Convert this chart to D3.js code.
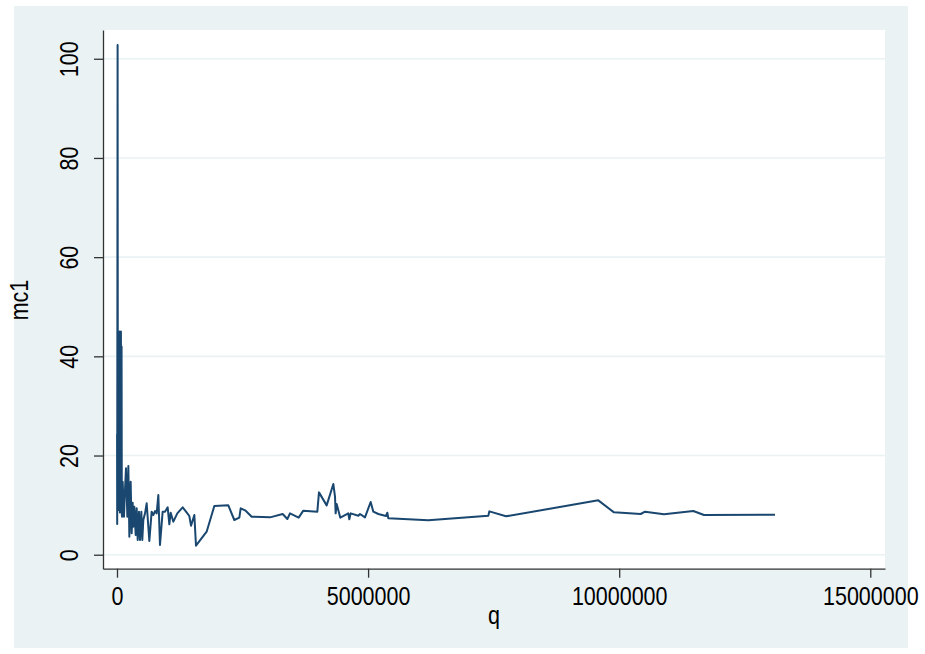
<!DOCTYPE html>
<html>
<head>
<meta charset="utf-8">
<script src="https://cdn.jsdelivr.net/npm/d3@7"></script>
<style>
html,body{margin:0;padding:0;background:#fff;}
svg{display:block;}
text{font-family:"Liberation Sans",Arial,Helvetica,sans-serif;}
</style>
</head>
<body>
<svg id="chart" width="925" height="654"></svg>
<script>
// ---- data ----
const qValues = [
  1500, 4000, 12000, 17000, 22000, 28000, 36000, 43000, 50000, 57000, 64000, 71000, 78000, 85000, 91000, 96000,
  100000, 113000, 139000, 159000, 179000, 206000, 226000, 246000, 272000, 292000,
  312000, 325000, 345000, 372000, 392000, 412000, 438000, 458000, 485000, 504000,
  524000, 558000, 591000, 644000, 690000, 723000, 757000, 790000, 823000, 856000,
  909000, 956000, 1009000, 1042000, 1069000, 1122000, 1201000, 1308000, 1401000, 1440000,
  1474000, 1540000, 1573000, 1785000, 1938000, 2217000, 2336000, 2436000, 2463000, 2562000,
  2682000, 3047000, 3299000, 3392000, 3445000, 3617000, 3710000, 3989000, 4022000, 4175000,
  4308000, 4341000, 4354000, 4374000, 4447000, 4606000, 4626000, 4653000, 4806000, 4839000,
  4938000, 5051000, 5104000, 5204000, 5356000, 5383000, 5403000,
  6199000, 7394000, 7414000, 7746000, 9584000, 9896000, 10428000, 10514000, 10892000,
  11476000, 11689000, 13102000
];
const mc1Values = [
  24.3, 6.2, 102.8, 11.5, 45.0, 9.0, 44.6, 12.5, 45.0, 8.5, 44.0, 10.5, 45.0, 9.0, 42.0, 8.2,
  7.67, 14.72, 7.67, 13.04, 17.41, 7.67, 17.88, 3.64, 14.72, 4.31,
  10.49, 5.65, 9.68, 3.97, 9.35, 2.96, 8.68, 2.96, 8.68, 2.96,
  7.00, 8.34, 10.36, 2.76, 8.68, 8.00, 8.81, 8.34, 12.04, 1.96,
  8.68, 8.68, 9.55, 6.12, 8.47, 6.66, 8.34, 9.55, 8.34, 7.80,
  5.85, 8.00, 1.82, 4.64, 9.82, 9.95, 7.00, 7.47, 9.35, 8.88,
  7.67, 7.53, 8.21, 7.20, 8.34, 7.47, 8.88, 8.68, 12.57, 9.95,
  14.25, 11.70, 8.34, 10.22, 7.47, 8.34, 7.13, 8.34, 7.87, 8.21,
  7.53, 10.63, 8.68, 8.21, 7.80, 8.47, 7.33,
  6.93, 7.87, 8.74, 7.74, 10.96, 8.54, 8.21, 8.68, 8.14,
  8.81, 8.00, 8.07
];
const xTicks = [0, 5000000, 10000000, 15000000];
const yTicks = [0, 20, 40, 60, 80, 100];
const xTitle = "q";
const yTitle = "mc1";

// ---- layout ----
const W = 925, H = 654;
const plot = {left: 103, right: 885, top: 30, bottom: 568.7};
const svg = d3.select("#chart");

svg.append("rect").attr("x",0).attr("y",0).attr("width",W).attr("height",H).attr("fill","#ffffff");
svg.append("rect").attr("x",14).attr("y",6).attr("width",894).attr("height",642).attr("fill","#eaf2f3");
svg.append("rect").attr("x",plot.left).attr("y",plot.top)
   .attr("width",plot.right-plot.left).attr("height",plot.bottom-plot.top).attr("fill","#ffffff");

const x = d3.scaleLinear().domain([-278800, 15293000]).range([plot.left, plot.right]);
const y = d3.scaleLinear().domain([-2.82, 105.8]).range([plot.bottom, plot.top]);

// gridlines
svg.append("g").selectAll("line").data(yTicks).join("line")
  .attr("x1", plot.left+1).attr("x2", plot.right)
  .attr("y1", d=>y(d)).attr("y2", d=>y(d))
  .attr("stroke","#eaf2f3").attr("stroke-width",1.6);

// line
const data = qValues.map((q,i)=>({q:q, m:mc1Values[i]}));
svg.append("path").datum(data)
  .attr("fill","none").attr("stroke","#1a476f").attr("stroke-width",2)
  .attr("stroke-linejoin","round")
  .attr("d", d3.line().x(d=>x(d.q)).y(d=>y(d.m)));

// axes
const fs = "25.6px";
const sx = 0.84;
const yAxis = svg.append("g").attr("transform",`translate(${plot.left},0)`)
  .call(d3.axisLeft(y).tickValues(yTicks).tickFormat(d3.format("d")).tickSize(9).tickSizeOuter(0));
const xAxis = svg.append("g").attr("transform",`translate(0,${plot.bottom})`)
  .call(d3.axisBottom(x).tickValues(xTicks).tickFormat(d3.format("d")).tickSize(9).tickSizeOuter(0));

[yAxis, xAxis].forEach(g=>{
  g.select(".domain").attr("stroke","#333").attr("stroke-width",1.3);
  g.selectAll(".tick line").attr("stroke","#333").attr("stroke-width",1.3);
  g.selectAll(".tick text").attr("fill","#000").style("font-size",fs)
   .style("font-family",'"Liberation Sans",Arial,Helvetica,sans-serif');
});
yAxis.selectAll(".tick text")
  .attr("x",0).attr("y",0).attr("dy",0)
  .attr("transform",`translate(-25,0) rotate(-90) scale(${sx},1)`)
  .attr("text-anchor","middle");
xAxis.selectAll(".tick text")
  .attr("x",0).attr("y",0).attr("dy",0)
  .attr("transform",`translate(0,36.5) scale(${sx},1)`);

// titles
svg.append("text").attr("transform",`translate(494,624) scale(${sx},1)`).attr("text-anchor","middle")
  .style("font-size",fs).attr("fill","#000").text(xTitle);
svg.append("text").attr("transform",`translate(27.5,300) rotate(-90) scale(${sx},1)`).attr("text-anchor","middle")
  .style("font-size",fs).attr("fill","#000").text(yTitle);
</script>
</body>
</html>
